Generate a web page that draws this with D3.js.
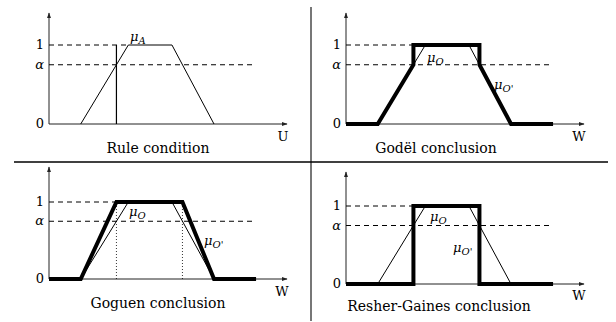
<!DOCTYPE html>
<html>
<head>
<meta charset="utf-8">
<script src="https://cdn.jsdelivr.net/npm/d3@7/dist/d3.min.js"></script>
<style>
  body { margin: 0; background: #fff; }
</style>
</head>
<body>
<svg id="chart" width="616" height="322"></svg>
<script>
// membership data (x in domain units, y in membership degree)
var alpha = 0.75;
var muO = [[2, 0], [5, 1], [7.75, 1], [10.4, 0]];
var ruleCut = [[4.25, 0], [4.25, 1]];
var godel = [[0, 0], [2, 0], [4.25, 0.75], [4.25, 1], [8.41, 1], [8.41, 0.75], [10.4, 0], [13.05, 0]];
var goguen = [[0, 0], [2, 0], [4.25, 1], [8.41, 1], [10.4, 0], [13.05, 0]];
var goguenCuts = [4.25, 8.41];
var resher = [[0, 0], [4.25, 0], [4.25, 1], [8.41, 1], [8.41, 0], [13.05, 0]];
var titles = ['Rule condition', 'Godël conclusion', 'Goguen conclusion', 'Resher-Gaines conclusion'];
var axisNames = ['U', 'W', 'W', 'W'];
var yTicks = [['0', 0], ['α', alpha], ['1', 1]];

var serif = "'DejaVu Serif', 'Liberation Serif', serif";
var svg = d3.select('#chart').attr('font-family', serif);

var defs = svg.append('defs');
defs.append('marker')
    .attr('id', 'arrow')
    .attr('viewBox', '0 0 10 10')
    .attr('refX', 9).attr('refY', 5)
    .attr('markerWidth', 6).attr('markerHeight', 6)
    .attr('markerUnits', 'userSpaceOnUse')
    .attr('orient', 'auto')
    .append('path').attr('d', 'M0,1.5L10,5L0,8.5Z').attr('fill', '#222');

// panel geometry
var panels = [
    {ox: 49, y0: 124, y1: 45, top: 13, title: [158, 153], name: [283, 141], labels: [{t: 'A', x: 130, y: 41}]},
    {ox: 346, y0: 124, y1: 45, top: 13, title: [436, 153], name: [579, 141], labels: [{t: 'O', x: 427, y: 62}, {t: "O'", x: 494, y: 89}]},
    {ox: 49, y0: 279, y1: 202, top: 167, title: [158, 308], name: [282, 296], labels: [{t: 'O', x: 129, y: 216}, {t: "O'", x: 204, y: 245}]},
    {ox: 346, y0: 284, y1: 206, top: 172, title: [439, 311], name: [579, 300], labels: [{t: 'O', x: 430, y: 221}, {t: "O'", x: 453, y: 252}]}
];

panels.forEach(function(p, i) {
    var x = d3.scaleLinear().domain([0, 15]).range([p.ox, p.ox + 238]);
    var y = d3.scaleLinear().domain([0, 1]).range([p.y0, p.y1]);
    var line = d3.line().x(function(d) { return x(d[0]); }).y(function(d) { return y(d[1]); });
    var g = svg.append('g');

    // axes with arrows
    g.append('line')
        .attr('x1', x(0)).attr('y1', y(0)).attr('x2', x(15)).attr('y2', y(0))
        .attr('stroke', '#222').attr('stroke-width', 1).attr('marker-end', 'url(#arrow)');
    g.append('line')
        .attr('x1', x(0)).attr('y1', y(0)).attr('x2', x(0)).attr('y2', p.top)
        .attr('stroke', '#222').attr('stroke-width', 1).attr('marker-end', 'url(#arrow)');

    // y labels
    yTicks.forEach(function(t) {
        g.append('text')
            .attr('x', x(0) - 5).attr('y', y(t[1]) + 4)
            .attr('text-anchor', 'end')
            .attr('font-family', serif)
            .style('font-size', '13px')
            .style('font-style', t[0] === 'α' ? 'italic' : 'normal')
            .text(t[0]);
    });

    // dashed guide lines: level 1 ends where the output curve reaches 1
    var oneEnd = i === 0 ? 5 : 4.25;
    g.append('line')
        .attr('x1', x(0)).attr('y1', y(1)).attr('x2', x(oneEnd)).attr('y2', y(1))
        .attr('stroke', '#000').attr('stroke-dasharray', '5,4');
    g.append('line')
        .attr('x1', x(0)).attr('y1', y(alpha)).attr('x2', x(12.95)).attr('y2', y(alpha))
        .attr('stroke', '#000').attr('stroke-dasharray', '5,4');

    // thin membership function
    g.append('path').datum(muO)
        .attr('d', line).attr('fill', 'none').attr('stroke', '#000').attr('stroke-width', 1);

    if (i === 0) {
        g.append('path').datum(ruleCut)
            .attr('d', line).attr('fill', 'none').attr('stroke', '#000').attr('stroke-width', 1.2);
    } else {
        if (i === 2) {
            goguenCuts.forEach(function(c) {
                g.append('line')
                    .attr('x1', x(c)).attr('y1', y(0)).attr('x2', x(c)).attr('y2', y(1))
                    .attr('stroke', '#000').attr('stroke-width', 0.8).attr('stroke-dasharray', '1,2');
            });
        }
        var thick = [null, godel, goguen, resher][i];
        g.append('path').datum(thick)
            .attr('d', line).attr('fill', 'none').attr('stroke', '#000')
            .attr('stroke-width', 4).attr('stroke-linejoin', 'miter');
    }

    // mu labels
    p.labels.forEach(function(l) {
        var t = g.append('text').attr('x', l.x).attr('y', l.y)
            .attr('font-family', serif)
            .style('font-size', '13px').style('font-style', 'italic');
        t.append('tspan').text('μ');
        t.append('tspan').attr('dy', 3).style('font-size', '10px').text(l.t);
    });

    g.append('text')
        .attr('x', p.name[0]).attr('y', p.name[1])
        .attr('text-anchor', 'middle').attr('font-family', serif).style('font-size', '13px')
        .text(axisNames[i]);

    g.append('text')
        .attr('x', p.title[0]).attr('y', p.title[1])
        .attr('text-anchor', 'middle').attr('font-family', serif).style('font-size', '14px')
        .text(titles[i]);
});

// panel separators
svg.append('line').attr('x1', 311).attr('y1', 7).attr('x2', 311).attr('y2', 321)
    .attr('stroke', '#777').attr('stroke-width', 2);
svg.append('line').attr('x1', 14).attr('y1', 162).attr('x2', 608).attr('y2', 162)
    .attr('stroke', '#000').attr('stroke-width', 1.5);
</script>
</body>
</html>
